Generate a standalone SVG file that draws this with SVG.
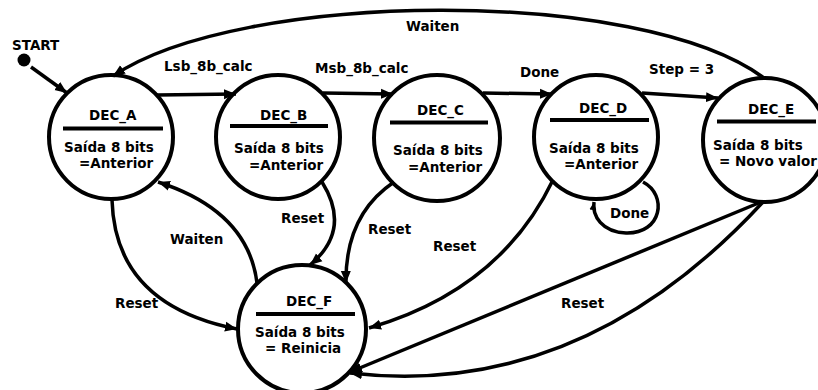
<svg xmlns="http://www.w3.org/2000/svg" width="818" height="390" viewBox="0 0 818 390">
  <style>
    .state { fill: #ffffff; stroke: #000000; stroke-width: 4; }
    .bar { stroke: #000000; stroke-width: 4; }
    .t { font-family: "DejaVu Sans", "Liberation Sans", sans-serif; font-weight: bold; font-size: 13.5px; fill: #000000; }
    .edge { fill: none; stroke: #000000; stroke-width: 3.5; marker-end: url(#arrow); }
    .loop { fill: none; stroke: #000000; stroke-width: 3.5; marker-end: url(#arrowSmall); }
  </style>
  <defs>
    <marker id="arrow" markerUnits="userSpaceOnUse" markerWidth="14" markerHeight="12" refX="12" refY="5" orient="auto" viewBox="0 0 14 10">
      <path d="M0,0 L12,5 L0,10 Z" fill="#000000"/>
    </marker>
    <marker id="arrowSmall" markerUnits="userSpaceOnUse" markerWidth="10" markerHeight="9" refX="8" refY="3.5" orient="auto" viewBox="0 0 10 7">
      <path d="M0,0 L8,3.5 L0,7 Z" fill="#000000"/>
    </marker>
  </defs>

  <rect width="818" height="390" fill="#ffffff"/>

  <!-- initial pseudo-state -->
  <g id="start">
    <circle cx="24" cy="60" r="6.5" fill="#000000"/>
    <text class="t" x="12" y="50" font-size="12.5">START</text>
  </g>

  <g id="dec_a">
    <circle class="state" cx="111" cy="137" r="62"/>
    <text class="t" x="89" y="120">DEC_A</text>
    <line class="bar" x1="63" y1="128.5" x2="163" y2="128.5"/>
    <text class="t" x="64" y="152">Saída 8 bits</text>
    <text class="t" x="79" y="168">=Anterior</text>
  </g>

  <g id="dec_b">
    <circle class="state" cx="278" cy="137" r="62"/>
    <text class="t" x="260" y="120">DEC_B</text>
    <line class="bar" x1="230" y1="126" x2="328" y2="126"/>
    <text class="t" x="234" y="153">Saída 8 bits</text>
    <text class="t" x="249" y="170">=Anterior</text>
  </g>

  <g id="dec_c">
    <circle class="state" cx="437" cy="138" r="63"/>
    <text class="t" x="417" y="115">DEC_C</text>
    <line class="bar" x1="390" y1="122.5" x2="488" y2="122.5"/>
    <text class="t" x="393" y="155">Saída 8 bits</text>
    <text class="t" x="408" y="172">=Anterior</text>
  </g>

  <g id="dec_d">
    <circle class="state" cx="596" cy="137" r="62"/>
    <text class="t" x="579" y="112.5">DEC_D</text>
    <line class="bar" x1="550" y1="120" x2="649" y2="120"/>
    <text class="t" x="549" y="152.5">Saída 8 bits</text>
    <text class="t" x="564" y="169">=Anterior</text>
  </g>

  <g id="dec_e">
    <circle class="state" cx="765" cy="140" r="62"/>
    <text class="t" x="748" y="114">DEC_E</text>
    <line class="bar" x1="717" y1="121.5" x2="816" y2="121.5"/>
    <text class="t" x="713" y="150">Saída 8 bits</text>
    <text class="t" x="719" y="166">= Novo valor</text>
  </g>

  <g id="dec_f">
    <circle class="state" cx="302" cy="329" r="64"/>
    <text class="t" x="286" y="305.5">DEC_F</text>
    <line class="bar" x1="256" y1="314" x2="355" y2="314"/>
    <text class="t" x="255" y="336.5">Saída 8 bits</text>
    <text class="t" x="265" y="353">= Reinicia</text>
  </g>

  <g id="connectors">
    <path class="edge" d="M31,67 L67,93"/>
    <path class="edge" d="M157,95 L236,94"/>
    <path class="edge" d="M323,93 L393,94"/>
    <path class="edge" d="M483,93 L552,94"/>
    <path class="edge" d="M642,93 L718,98"/>
    <path class="edge" d="M764,78 C640,-14 240,-10 113,76"/>
    <path class="edge" d="M257,283 Q248,211 158,182"/>
    <path class="edge" d="M112,200 Q115,305 237,329"/>
    <path class="edge" d="M322,182 Q352,230 310,265"/>
    <path class="edge" d="M394,182 Q345,215 346,283"/>
    <path class="edge" d="M553,180 Q500,290 369,328"/>
    <path class="edge" d="M761,202 L350,372"/>
    <path class="edge" d="M763,202 Q580,400 350,373"/>
    <path class="loop" d="M643,182 C668,195 662,234 626,233 C602,232 592,216 594,202"/>

    <text class="t" x="164" y="71">Lsb_8b_calc</text>
    <text class="t" x="315" y="73">Msb_8b_calc</text>
    <text class="t" x="520" y="77">Done</text>
    <text class="t" x="649" y="74">Step = 3</text>
    <text class="t" x="406" y="31">Waiten</text>
    <text class="t" x="170" y="244">Waiten</text>
    <text class="t" x="281" y="223">Reset</text>
    <text class="t" x="368" y="234">Reset</text>
    <text class="t" x="433" y="251">Reset</text>
    <text class="t" x="115" y="308">Reset</text>
    <text class="t" x="561" y="308">Reset</text>
    <text class="t" x="610" y="218">Done</text>
  </g>
</svg>
